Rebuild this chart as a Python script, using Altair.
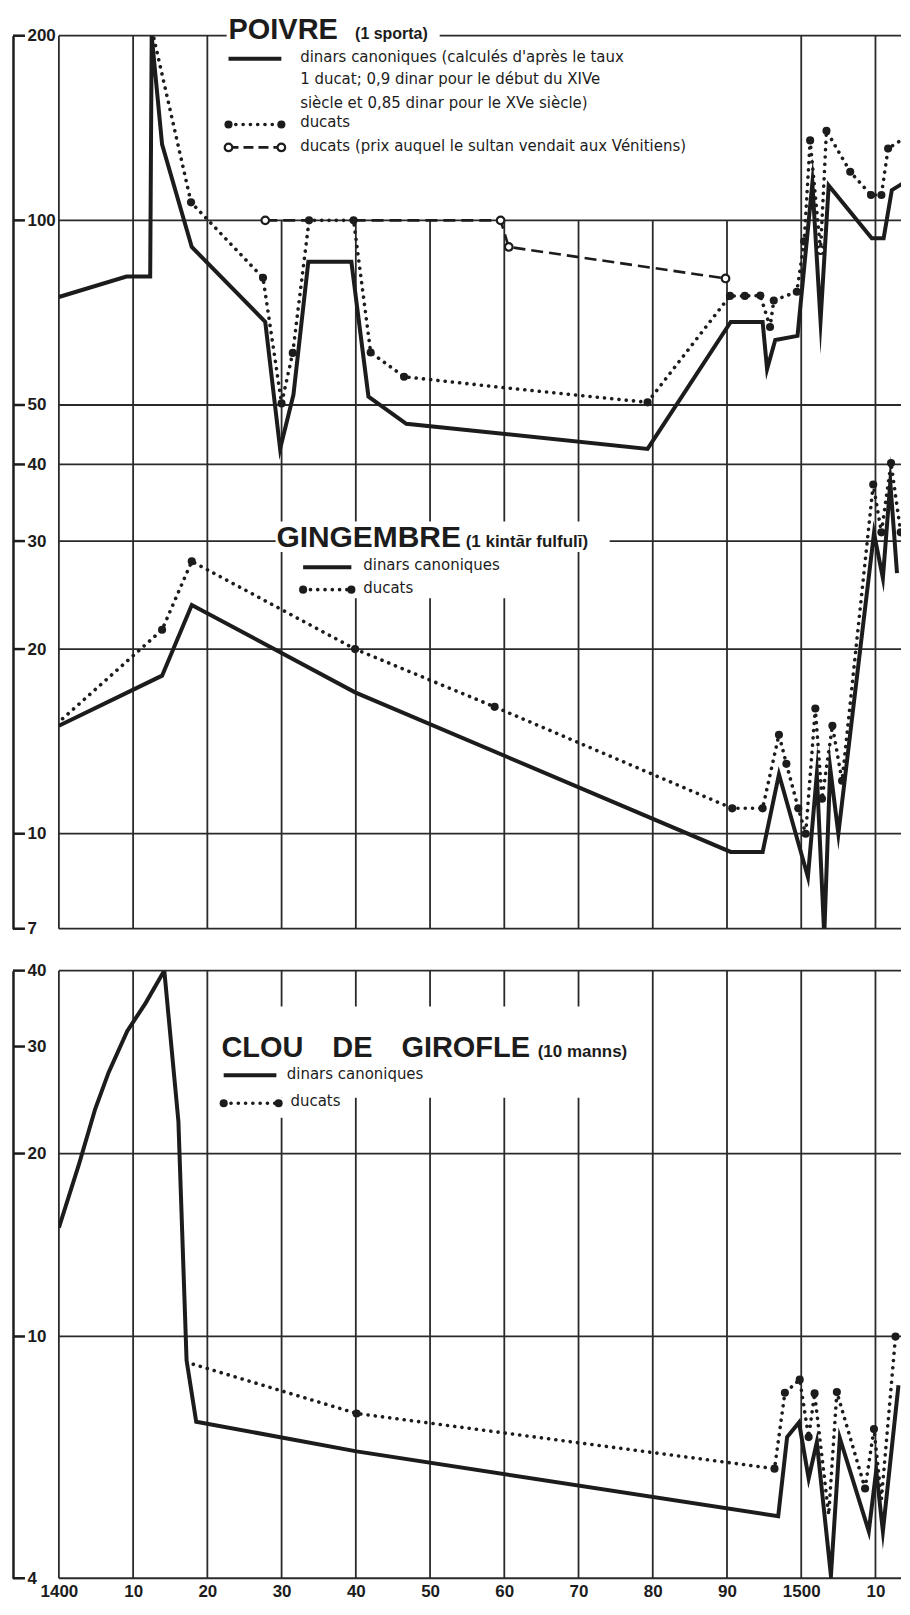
import altair as alt
import pandas as pd

INK = "#1c1c1c"
GRID = "#2a2a2a"
FONT_T = "Liberation Sans"
FONT_L = "DejaVu Sans"

# ---------------- axes ----------------
decades = [1400, 1410, 1420, 1430, 1440, 1450, 1460, 1470, 1480, 1490, 1500, 1510]
decade_labels = ["1400", "10", "20", "30", "40", "50", "60", "70", "80", "90", "1500", "10"]

top_grid = [200, 100, 50, 40, 30, 20, 10, 7]
top_ticks = [200, 100, 50, 40, 30, 20, 10, 7]
bot_grid = [40, 20, 10, 4]
bot_ticks = [40, 30, 20, 10, 4]

# ---------------- POIVRE ----------------
poivre_dinars_year = [1400.0, 1409.1, 1412.3, 1412.5, 1413.9, 1417.9, 1427.8, 1429.8, 1431.6, 1433.6,
                      1439.4, 1441.7, 1446.8, 1479.3, 1490.5, 1494.8, 1495.4, 1496.5, 1499.5, 1501.5,
                      1502.6, 1503.7, 1509.5, 1511.1, 1512.2, 1514.25]
poivre_dinars_val = [75.0, 81.0, 81.0, 200.0, 133.0, 90.5, 68.3, 42.4, 52.0, 85.6,
                     85.6, 51.6, 46.6, 42.4, 68.3, 68.3, 57.2, 63.8, 64.8, 115.0,
                     68.6, 114.0, 93.5, 93.5, 112.0, 116.0]

poivre_ducats_year = [1412.8, 1417.8, 1427.5, 1430.0, 1431.5, 1433.7, 1439.7, 1442.0, 1446.5, 1459.1,
                      1479.3, 1490.4, 1492.4, 1494.5, 1495.8, 1496.3, 1499.4, 1500.4, 1501.2, 1502.6,
                      1503.4, 1506.6, 1509.4, 1510.8, 1511.7, 1514.25]
poivre_ducats_val = [198, 107, 80.6, 50.3, 60.8, 100, 100, 60.9, 55.6, 53.5,
                     50.5, 75.3, 75.3, 75.4, 67.0, 74.0, 76.5, 92.4, 135, 89.4,
                     140, 120, 110, 110, 131, 137]
poivre_ducats_mark = [0, 1, 1, 1, 1, 1, 1, 1, 1, 0,
                      1, 1, 1, 1, 1, 1, 1, 1, 1, 0,
                      1, 1, 1, 1, 1, 0]

sultan_year = [1427.8, 1433.7, 1439.7, 1459.5, 1460.6, 1489.8, 1502.6]
sultan_val = [100, 100, 100, 100, 90.5, 80.4, 89.4]
sultan_seg = ["a", "a", "b", "b", "b", "b", "c"]
sultan_open = [1, 0, 0, 1, 1, 1, 1]

# ---------------- GINGEMBRE ----------------
ging_dinars_year = [1400.0, 1413.9, 1417.9, 1439.9, 1490.5, 1494.8, 1497.0, 1500.9, 1502.1, 1503.1,
                    1503.9, 1505.0, 1509.8, 1511.0, 1512.0, 1512.9]
ging_dinars_val = [15.0, 18.1, 23.6, 17.0, 9.34, 9.34, 12.5, 8.5, 12.5, 6.83,
                   12.8, 10.0, 30.9, 26.1, 37.4, 26.6]

ging_ducats_year = [1400.5, 1413.9, 1417.9, 1439.9, 1458.7, 1490.7, 1494.8, 1497.0, 1498.0, 1499.6,
                    1500.6, 1501.9, 1502.8, 1504.2, 1505.5, 1509.7, 1510.8, 1512.1, 1513.4]
ging_ducats_val = [15.4, 21.5, 27.8, 20.0, 16.1, 11.0, 11.0, 14.5, 13.0, 11.0,
                   10.0, 16.0, 11.4, 15.0, 12.2, 37.1, 31.0, 40.2, 31.0]
ging_ducats_mark = [0, 1, 1, 1, 1, 1, 1, 1, 1, 1,
                    1, 1, 1, 1, 1, 1, 1, 1, 1]

# ---------------- CLOU DE GIROFLE ----------------
clou_dinars_year = [1400.0, 1402.7, 1404.9, 1406.7, 1409.2, 1411.7, 1414.2, 1416.1, 1417.2, 1418.5,
                    1440.1, 1496.9, 1498.1, 1499.7, 1501.0, 1502.1, 1504.0, 1505.2, 1509.1, 1510.1,
                    1511.0, 1513.1]
clou_dinars_val = [15.1, 19.2, 23.7, 27.2, 31.8, 35.4, 40.0, 22.6, 9.14, 7.24,
                   6.47, 5.06, 6.83, 7.22, 5.84, 6.7, 4.04, 6.8, 4.78, 6.02,
                   4.78, 8.31]

clou_ducats_year = [1418.1, 1440.1, 1496.4, 1497.8, 1499.8, 1501.0, 1501.8, 1503.7, 1504.8, 1508.6,
                    1509.8, 1510.8, 1512.7]
clou_ducats_val = [9.0, 7.47, 6.06, 8.08, 8.49, 6.83, 8.06, 5.09, 8.1, 5.62,
                   7.04, 5.4, 10.0]
clou_ducats_mark = [0, 1, 1, 1, 1, 1, 1, 0, 1, 1, 1, 0, 1]

# ---------------- texts ----------------
poivre_title = "POIVRE"
poivre_unit = "(1 sporta)"
poivre_legend = ["dinars canoniques (calculés d'après le taux",
                 "1 ducat; 0,9 dinar pour le début du XIVe",
                 "siècle et 0,85 dinar pour le XVe siècle)",
                 "ducats",
                 "ducats (prix auquel le sultan vendait aux Vénitiens)"]
ging_title = "GINGEMBRE"
ging_unit = "(1 kintār fulfulī)"
clou_title = "CLOU\u2003DE\u2003GIROFLE"
clou_unit = "(10 manns)"
short_legend = ["dinars canoniques", "ducats"]

# ---------------- layout ----------------
W = 844
X_DOMAIN = [1400, 1513.44]
TOP_H = 895
BOT_H = 609
xs = alt.Scale(domain=X_DOMAIN, nice=False, zero=False)

label_expr = "[" + ",".join("'%s'" % s for s in decade_labels) + "][indexof([" + \
    ",".join(str(v) for v in decades) + "], datum.value)]"


def build(ydom, height, grid_vals, tick_vals, xaxis, under_rects, over_rects,
          solids, dotteds, dashed, filled, opened, leg_rules, leg_dots, leg_dash,
          leg_filled, leg_open, texts):
    ys = alt.Scale(type="log", domain=ydom, nice=False)
    yaxis = alt.Axis(values=tick_vals, offset=46, domain=True, domainColor=INK, domainWidth=2.5,
                     ticks=False, tickSize=0, grid=False, labelAlign="left", labelBaseline="middle",
                     labelPadding=-14, labelFont=FONT_T, labelFontSize=17, labelFontWeight="bold",
                     labelColor=INK, title=None, labelFlush=False, labelOverlap=False, format="d")

    def Xe(f="year"):
        return alt.X(f"{f}:Q", scale=xs, axis=xaxis)

    def Ye(f="v"):
        return alt.Y(f"{f}:Q", scale=ys, axis=yaxis)

    L = []
    L.append(alt.Chart(pd.DataFrame({"year": decades})).mark_rule(color=GRID, strokeWidth=1.8)
             .encode(x=Xe()))
    if under_rects is not None:
        L.append(alt.Chart(under_rects).mark_rect(color="white", opacity=1)
                 .encode(x=Xe("x1"), x2=alt.X2("x2:Q"), y=Ye("y1"), y2=alt.Y2("y2:Q")))
    L.append(alt.Chart(pd.DataFrame({"v": grid_vals})).mark_rule(color=GRID, strokeWidth=1.8)
             .encode(y=Ye()))
    L.append(alt.Chart(over_rects).mark_rect(color="white", opacity=1)
             .encode(x=Xe("x1"), x2=alt.X2("x2:Q"), y=Ye("y1"), y2=alt.Y2("y2:Q")))
    L.append(alt.Chart(pd.DataFrame({"v": tick_vals})).mark_rule(color=INK, strokeWidth=2.5)
             .encode(x=alt.value(-46), x2=alt.value(-34), y=Ye()))
    # data lines
    L.append(alt.Chart(solids).mark_line(color=INK, strokeWidth=4, clip=True, strokeJoin="miter",
                                         strokeMiterLimit=30)
             .encode(x=Xe(), y=Ye(), detail="s:N", order="i:Q"))
    L.append(alt.Chart(dotteds).mark_line(color=INK, strokeWidth=3.6, strokeDash=[0.1, 7.2],
                                          strokeCap="round", clip=True)
             .encode(x=Xe(), y=Ye(), detail="s:N", order="i:Q"))
    if dashed is not None:
        L.append(alt.Chart(dashed).mark_line(color=INK, strokeWidth=2.6, strokeDash=[12, 6], clip=True)
                 .encode(x=Xe(), y=Ye(), detail="s:N", order="i:Q"))
    # legend samples
    L.append(alt.Chart(leg_rules).mark_rule(color=INK, strokeWidth=4)
             .encode(x=Xe("x1"), x2=alt.X2("x2:Q"), y=Ye()))
    L.append(alt.Chart(leg_dots).mark_line(color=INK, strokeWidth=3.6, strokeDash=[0.1, 7.2],
                                           strokeCap="round")
             .encode(x=Xe(), y=Ye(), detail="s:N"))
    if leg_dash is not None:
        L.append(alt.Chart(leg_dash).mark_line(color=INK, strokeWidth=2.6, strokeDash=[10, 5])
                 .encode(x=Xe(), y=Ye(), detail="s:N"))
    # markers
    L.append(alt.Chart(pd.concat([filled, leg_filled])).mark_circle(color=INK, size=66, opacity=1, clip=True)
             .encode(x=Xe(), y=Ye()))
    if opened is not None:
        L.append(alt.Chart(pd.concat([opened, leg_open])).mark_point(shape="circle", size=58, filled=False,
                                                                    fill="white", fillOpacity=1, stroke=INK,
                                                                    strokeWidth=2.2, opacity=1, clip=True)
                 .encode(x=Xe(), y=Ye()))
    for tdf, style in texts:
        L.append(alt.Chart(tdf).mark_text(align="left", color=INK, **style)
                 .encode(x=Xe(), y=Ye(), text="t:N"))
    return alt.layer(*L).properties(width=W, height=height)


def series(name, years, vals):
    return pd.DataFrame({"year": years, "v": vals, "s": name, "i": list(range(len(years)))})


# ---------------- top chart (POIVRE + GINGEMBRE) ----------------
top_solids = pd.concat([series("poivre", poivre_dinars_year, poivre_dinars_val),
                        series("ging", ging_dinars_year, ging_dinars_val)])
top_dotted = pd.concat([series("poivre", poivre_ducats_year, poivre_ducats_val),
                        series("ging", ging_ducats_year, ging_ducats_val)])
top_dashed = pd.DataFrame({"year": sultan_year, "v": sultan_val, "s": sultan_seg,
                           "i": list(range(len(sultan_year)))})
pm = pd.DataFrame({"year": poivre_ducats_year, "v": poivre_ducats_val, "m": poivre_ducats_mark})
gm = pd.DataFrame({"year": ging_ducats_year, "v": ging_ducats_val, "m": ging_ducats_mark})
top_filled = pd.concat([pm[pm.m == 1], gm[gm.m == 1]])[["year", "v"]]
so = pd.DataFrame({"year": sultan_year, "v": sultan_val, "m": sultan_open})
top_open = so[so.m == 1][["year", "v"]]

top_under = pd.DataFrame({"x1": [1423.0], "x2": [1496.9], "y1": [100.0], "y2": [200.0]})
top_over = pd.DataFrame({"x1": [1422.6, 1429.2, 1432.3],
                         "x2": [1451.3, 1474.2, 1461.6],
                         "y1": [196.3, 28.8, 24.2],
                         "y2": [216.5, 32.3, 28.8]})

top_leg_rules = pd.DataFrame({"x1": [1422.85, 1432.9], "x2": [1429.97, 1439.4], "v": [183.5, 27.2]})
top_leg_dots = pd.DataFrame({"year": [1422.85, 1429.97, 1432.9, 1439.4], "v": [143.3, 143.3, 25.0, 25.0],
                             "s": ["p", "p", "g", "g"]})
top_leg_dash = pd.DataFrame({"year": [1422.85, 1429.97], "v": [131.5, 131.5], "s": ["d", "d"]})
top_leg_filled = pd.DataFrame({"year": [1422.85, 1429.97, 1432.9, 1439.4], "v": [143.3, 143.3, 25.0, 25.0]})
top_leg_open = pd.DataFrame({"year": [1422.85, 1429.97], "v": [131.5, 131.5]})

top_texts = [
    (pd.DataFrame({"year": [1422.85], "v": [197.8], "t": [poivre_title]}),
     dict(baseline="alphabetic", font=FONT_T, fontSize=29, fontWeight="bold")),
    (pd.DataFrame({"year": [1439.9], "v": [197.8], "t": [poivre_unit]}),
     dict(baseline="alphabetic", font=FONT_T, fontSize=16, fontWeight="bold")),
    (pd.DataFrame({"year": [1432.5] * 5, "v": [184.9, 170.2, 155.6, 144.9, 132.4], "t": poivre_legend}),
     dict(baseline="middle", font=FONT_L, fontSize=15)),
    (pd.DataFrame({"year": [1429.3], "v": [29.37], "t": [ging_title]}),
     dict(baseline="alphabetic", font=FONT_T, fontSize=30, fontWeight="bold")),
    (pd.DataFrame({"year": [1454.8], "v": [29.37], "t": [ging_unit]}),
     dict(baseline="alphabetic", font=FONT_T, fontSize=17, fontWeight="bold")),
    (pd.DataFrame({"year": [1441.0, 1441.0], "v": [27.4, 25.2], "t": short_legend}),
     dict(baseline="middle", font=FONT_L, fontSize=15)),
]

top = build([7, 200], TOP_H, top_grid, top_ticks, None, top_under, top_over,
            top_solids, top_dotted, top_dashed, top_filled, top_open,
            top_leg_rules, top_leg_dots, top_leg_dash, top_leg_filled, top_leg_open, top_texts)

# ---------------- bottom chart (CLOU DE GIROFLE) ----------------
bot_solids = series("clou", clou_dinars_year, clou_dinars_val)
bot_dotted = series("clou", clou_ducats_year, clou_ducats_val)
cm = pd.DataFrame({"year": clou_ducats_year, "v": clou_ducats_val, "m": clou_ducats_mark})
bot_filled = cm[cm.m == 1][["year", "v"]]
bot_over = pd.DataFrame({"x1": [1421.8, 1421.8], "x2": [1478.0, 1439.0],
                         "y1": [24.7, 22.9], "y2": [34.9, 24.7]})
bot_leg_rules = pd.DataFrame({"x1": [1422.2], "x2": [1429.3], "v": [26.9]})
bot_leg_dots = pd.DataFrame({"year": [1422.2, 1429.6], "v": [24.2, 24.2], "s": ["c", "c"]})
bot_leg_filled = pd.DataFrame({"year": [1422.2, 1429.6], "v": [24.2, 24.2]})
bot_texts = [
    (pd.DataFrame({"year": [1421.9], "v": [28.8], "t": [clou_title]}),
     dict(baseline="alphabetic", font=FONT_T, fontSize=29, fontWeight="bold")),
    (pd.DataFrame({"year": [1464.5], "v": [28.8], "t": [clou_unit]}),
     dict(baseline="alphabetic", font=FONT_T, fontSize=17, fontWeight="bold")),
    (pd.DataFrame({"year": [1430.7, 1431.2], "v": [27.0, 24.4], "t": short_legend}),
     dict(baseline="middle", font=FONT_L, fontSize=15)),
]
xaxis_bot = alt.Axis(values=decades, labelExpr=label_expr, domain=False, ticks=False, grid=False,
                     labelPadding=5, labelFont=FONT_T, labelFontSize=17, labelFontWeight="bold",
                     labelColor=INK, title=None, labelFlush=False, labelOverlap=False, labelAngle=0)

bottom = build([4, 40], BOT_H, bot_grid, bot_ticks, xaxis_bot, None, bot_over,
               bot_solids, bot_dotted, None, bot_filled, None,
               bot_leg_rules, bot_leg_dots, None, bot_leg_filled, None, bot_texts)

chart = alt.vconcat(top, bottom, spacing=25).properties(
    padding={"left": 3, "top": 4, "right": 0, "bottom": 0},
    background="white",
).configure_view(strokeWidth=0)

chart.save("out.html", embed_options={"renderer": "svg", "actions": False})
